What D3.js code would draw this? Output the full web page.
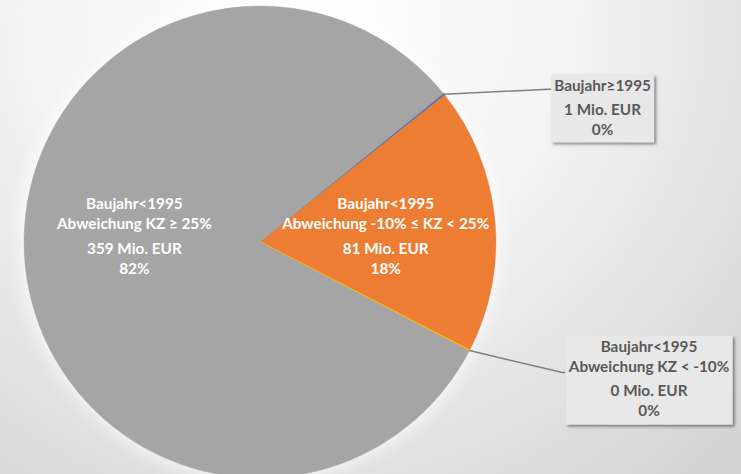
<!DOCTYPE html>
<html>
<head>
<meta charset="utf-8">
<script src="https://cdn.jsdelivr.net/npm/d3@7"></script>
<style>
  html, body { margin: 0; padding: 0; background: #fff; }
  svg { display: block; font-family: Lato, "Open Sans", sans-serif; font-weight: bold; }
</style>
</head>
<body>
<svg></svg>
<script>
// Kuchendiagramm: Volumen nach Baujahr / Abweichung KZ

const width = 741;
const height = 474;

// data (Mio. EUR)
const keys = ["neu", "mittel", "niedrig", "hoch"];
const names = [
  ["Baujahr≥1995"],
  ["Baujahr<1995", "Abweichung -10% ≤ KZ < 25%"],
  ["Baujahr<1995", "Abweichung KZ < -10%"],
  ["Baujahr<1995", "Abweichung KZ ≥ 25%"]
];
const values = [0.6, 80.6, 0.2, 359.4];
const colors = ["#4472c4", "#ed7d31", "#ffc000", "#a5a5a5"];
const outside = [true, false, true, false];

const cx = 260, cy = 242, radius = 236;
const fontSize = 15.3;

const svg = d3.select("svg")
  .attr("width", width)
  .attr("height", height);

const defs = svg.append("defs");

const bg = defs.append("radialGradient")
  .attr("id", "bg")
  .attr("gradientUnits", "userSpaceOnUse")
  .attr("cx", 300).attr("cy", 10).attr("r", 620);
bg.append("stop").attr("offset", 0).attr("stop-color", "#ffffff");
bg.append("stop").attr("offset", 0.45).attr("stop-color", "#f3f3f3");
bg.append("stop").attr("offset", 0.72).attr("stop-color", "#e3e3e3");
bg.append("stop").attr("offset", 1).attr("stop-color", "#d3d3d3");

const shadow = defs.append("filter")
  .attr("id", "shadow")
  .attr("x", "-10%").attr("y", "-10%")
  .attr("width", "130%").attr("height", "130%");
shadow.append("feDropShadow")
  .attr("dx", 2).attr("dy", 2)
  .attr("stdDeviation", 1.5)
  .attr("flood-color", "#000")
  .attr("flood-opacity", 0.45);

const glow = defs.append("filter")
  .attr("id", "glow")
  .attr("x", "-20%").attr("y", "-20%")
  .attr("width", "140%").attr("height", "140%");
glow.append("feDropShadow")
  .attr("dx", 0).attr("dy", 0)
  .attr("stdDeviation", 9)
  .attr("flood-color", "#ffffff")
  .attr("flood-opacity", 1);

svg.append("rect")
  .attr("width", width)
  .attr("height", height)
  .attr("fill", "url(#bg)");

const data = keys.map((k, i) => ({ key: k, name: names[i], value: values[i], color: colors[i], outside: outside[i] }));
const total = d3.sum(values);

const pie = d3.pie()
  .sort(null)
  .value(d => d.value)
  .startAngle(51 * Math.PI / 180)
  .endAngle(51 * Math.PI / 180 + 2 * Math.PI);

const arc = d3.arc().innerRadius(0).outerRadius(radius);
const arcs = pie(data);

const g = svg.append("g")
  .attr("transform", `translate(${cx},${cy})`);

g.append("g")
  .attr("filter", "url(#glow)")
  .selectAll("path")
  .data(arcs)
  .join("path")
  .attr("d", arc)
  .attr("fill", d => d.data.color)
  .attr("stroke", d => d.data.color)
  .attr("stroke-width", d => d.data.value < 1 ? 1.5 : 0.5);

const fmtVal = d3.format(".0f");
const fmtPct = d3.format(".0%");

// inside labels
const inner = d3.arc().innerRadius(0).outerRadius(radius * 1.07);
const lh = 20;

const inLabels = g.append("g")
  .attr("fill", "#ffffff")
  .attr("font-size", fontSize)
  .attr("text-anchor", "middle")
  .selectAll("text")
  .data(arcs.filter(d => !d.data.outside))
  .join("text")
  .attr("transform", d => `translate(${inner.centroid(d)[0]},-6)`);

inLabels.each(function(d) {
  const t = d3.select(this);
  const lines = d.data.name.concat([fmtVal(d.data.value) + " Mio. EUR", fmtPct(d.data.value / total)]);
  const gaps = [0, lh, lh + 5, lh];
  let y = -32;
  lines.forEach((s, i) => {
    y += gaps[i];
    t.append("tspan").attr("x", 0).attr("y", y).attr("dy", "0.35em").text(s);
  });
});

// outside labels with boxes and leader lines
const boxes = [
  { w: 103, h: 68, dx: 107, dy: -20, hook: 15 },
  { w: 167, h: 89, dx: 96, dy: -15, hook: 37 }
];
const outArcs = arcs.filter(d => d.data.outside);

outArcs.forEach((d, i) => {
  const a = (d.startAngle + d.endAngle) / 2;
  const px = Math.sin(a) * radius, py = -Math.cos(a) * radius;
  const b = boxes[i];
  const bx = px + b.dx, by = py + b.dy;

  g.append("polyline")
    .attr("points", [[px, py], [bx - 3, by + b.hook], [bx, by + b.hook]].map(p => p.join(",")).join(" "))
    .attr("fill", "none")
    .attr("stroke", "#7f7f7f")
    .attr("stroke-width", 1.5);

  g.append("rect")
    .attr("x", bx).attr("y", by)
    .attr("width", b.w).attr("height", b.h)
    .attr("fill", "#e8e8e8")
    .attr("filter", "url(#shadow)");

  const t = g.append("text")
    .attr("fill", "#595959")
    .attr("font-size", fontSize)
    .attr("text-anchor", "middle");
  const lines = d.data.name.concat([fmtVal(d.data.value) + " Mio. EUR", fmtPct(d.data.value / total)]);
  const n = d.data.name.length;
  let y = by + 11;
  lines.forEach((s, j) => {
    if (j > 0) y += (j === n ? 24 : 20);
    t.append("tspan").attr("x", bx + b.w / 2).attr("y", y).attr("dy", "0.35em").text(s);
  });
});
</script>
</body>
</html>
